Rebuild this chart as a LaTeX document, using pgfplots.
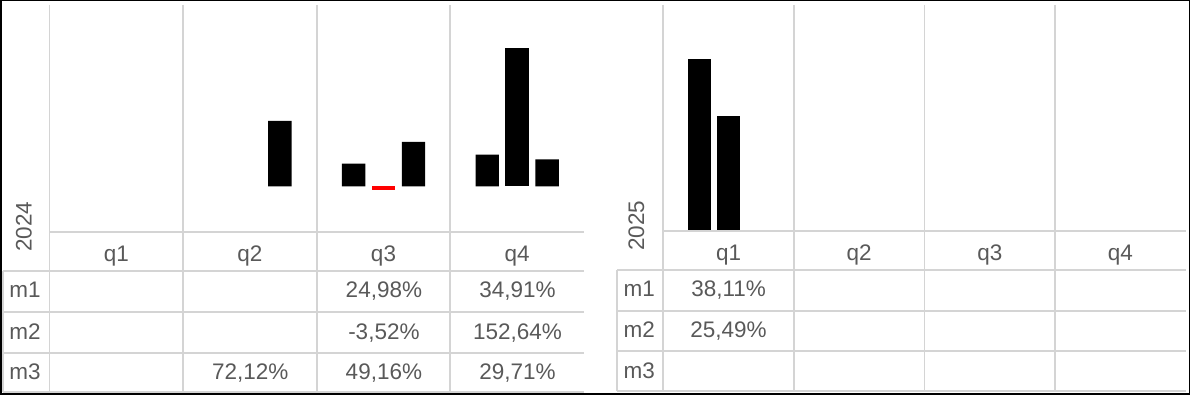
\documentclass[border=0pt]{standalone}
\usepackage{pgfplots}
\pgfplotsset{compat=1.18}
\usepackage{fontspec}
\setmainfont{Liberation Sans}
\definecolor{txt}{HTML}{595959}
\definecolor{gridc}{HTML}{D4D4D4}
\begin{document}
\begin{tikzpicture}
\useasboundingbox (0,0) rectangle (595pt,-197.5pt);
\pgfplotsset{
  bars/.style={
    scale only axis, axis lines=none, xtick=\empty, ytick=\empty,
    xmin=0.5, xmax=4.5, clip=false,
    ybar, bar width=0.175,
  }
}
% 2024 axis
\begin{axis}[bars, at={(24.75pt,-115.85pt)}, anchor=south west,
  width=267.25pt, height=113.35pt, ymin=-50, ymax=200]
\addplot[fill=black, draw=none, bar shift=-0.224] coordinates {(3,24.98) (4,34.91)};
\addplot[fill=black, draw=none, bar shift=0] coordinates {(4,152.64)};
\addplot[fill=red, draw=none, bar shift=0] coordinates {(3,-3.52)};
\addplot[fill=black, draw=none, bar shift=0.224] coordinates {(2,72.12) (3,49.16) (4,29.71)};
\end{axis}
% 2025 axis
\begin{axis}[bars, at={(331.65pt,-115.35pt)}, anchor=south west,
  width=261.2pt, height=112.85pt, ymin=0, ymax=50]
\addplot[fill=black, draw=none, bar shift=-0.224] coordinates {(1,38.11)};
\addplot[fill=black, draw=none, bar shift=0] coordinates {(1,25.49)};
\end{axis}
\begin{scope}[x=0.5pt, y=-0.5pt, every node/.style={text=txt, font=\fontsize{11.25pt}{13pt}\selectfont, inner sep=0pt}]
% left grid
\begin{scope}[draw=gridc, line width=0.9pt]
\foreach \xx in {49.5,183.1,316.7,450.3} \draw (\xx,5) -- (\xx,391.7);
\draw (3.3,270.7) -- (3.3,391.7);
\draw (49.5,231.7) -- (584,231.7);
\foreach \yy in {270.7,312.3,352.7,391.7} \draw (3.3,\yy) -- (584,\yy);
% right grid
\foreach \xx in {663.3,793.9,924.5,1055.1} \draw (\xx,5) -- (\xx,391);
\draw (617.3,270) -- (617.3,391);
\draw (663.3,230.7) -- (1185.7,230.7);
\foreach \yy in {270,311,350.7,391} \draw (617.3,\yy) -- (1185.7,\yy);
\end{scope}
% left texts
\node[rotate=90, anchor=west] at (24,252) {2024};
\foreach \t [count=\i] in {q1,q2,q3,q4} \node[anchor=base] at ({49.5+133.6*(\i-0.5)},261.7) {\t};
\node[anchor=base west] at (9,298) {m1};
\node[anchor=base west] at (9,339.3) {m2};
\node[anchor=base west] at (9,380) {m3};
\node[anchor=base] at (383.9,298) {24,98\%};
\node[anchor=base] at (517.5,298) {34,91\%};
\node[anchor=base] at (383.9,339.3) {-3,52\%};
\node[anchor=base] at (517.5,339.3) {152,64\%};
\node[anchor=base] at (250.3,380) {72,12\%};
\node[anchor=base] at (383.9,380) {49,16\%};
\node[anchor=base] at (517.5,380) {29,71\%};
% right texts
\node[rotate=90, anchor=west] at (636.5,251) {2025};
\foreach \t [count=\i] in {q1,q2,q3,q4} \node[anchor=base] at ({663.3+130.6*(\i-0.5)},260.5) {\t};
\node[anchor=base west] at (623.3,296.7) {m1};
\node[anchor=base west] at (623.3,337.3) {m2};
\node[anchor=base west] at (623.3,378.3) {m3};
\node[anchor=base] at (728.6,296.7) {38,11\%};
\node[anchor=base] at (728.6,337.3) {25,49\%};
% outer border
\draw[black, line width=0.75pt] (0.75,0.75) rectangle (1189.25,394.25);
\end{scope}
\end{tikzpicture}
\end{document}
